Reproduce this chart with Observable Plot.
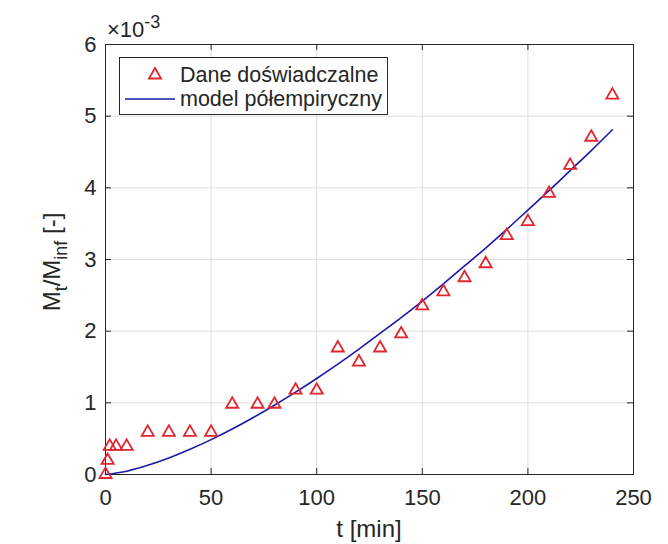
<!DOCTYPE html>
<html>
<head>
<meta charset="utf-8">
<script src="https://cdn.jsdelivr.net/npm/d3@7"></script>
<script src="https://cdn.jsdelivr.net/npm/@observablehq/plot@0.6"></script>
<style>
  html, body { margin: 0; padding: 0; background: #ffffff; }
</style>
</head>
<body>
<div id="chart"></div>
<script>
// Experimental data (t in min, Mt/Minf in units of 1e-3)
const tData = [0, 1, 2, 5, 10, 20, 30, 40, 50, 60, 72, 80, 90, 100, 110, 120, 130, 140, 150, 160, 170, 180, 190, 200, 210, 220, 230, 240];
const mData = [0, 0.196, 0.392, 0.392, 0.392, 0.588, 0.588, 0.588, 0.588, 0.980, 0.980, 0.980, 1.176, 1.176, 1.765, 1.569, 1.765, 1.961, 2.353, 2.549, 2.745, 2.941, 3.333, 3.529, 3.922, 4.314, 4.706, 5.294];

const tModel = [0, 10, 20, 30, 40, 50, 60, 70, 80, 90, 100, 110, 120, 130, 140, 150, 160, 170, 180, 190, 200, 210, 220, 230, 240];
const mModel = [0, 0.046, 0.128, 0.231, 0.352, 0.487, 0.635, 0.796, 0.967, 1.149, 1.34, 1.54, 1.75, 1.97, 2.19, 2.42, 2.66, 2.91, 3.16, 3.42, 3.69, 3.96, 4.24, 4.52, 4.81];

const xTicks = [0, 50, 100, 150, 200, 250];
const yTicks = [0, 1, 2, 3, 4, 5, 6];

const seriesData = "Dane doświadczalne";
const seriesModel = "model półempiryczny";
const xLabel = "t [min]";
const exponentLabel = "-3";

const data = tData.map((t, i) => ({t, m: mData[i]}));
const model = tModel.map((t, i) => ({t, m: mModel[i]}));

const W = 668, H = 544;
const mL = 105, mR = 35, mT = 44, mB = 70;
const frameH = H - mT - mB, frameW = W - mL - mR;
const tickLen = 6;
const red = "#e0262e", blue = "#1a1aa6", ink = "#262626", grid = "#dedede";

const chart = Plot.plot({
  width: W, height: H,
  marginLeft: mL, marginRight: mR, marginTop: mT, marginBottom: mB,
  style: {fontFamily: "'Liberation Sans', Arial, sans-serif", fontSize: "22px", color: ink, background: "#ffffff"},
  x: {domain: [0, 250]},
  y: {domain: [0, 6]},
  marks: [
    Plot.gridX(xTicks, {stroke: grid, strokeOpacity: 1}),
    Plot.gridY(yTicks, {stroke: grid, strokeOpacity: 1}),
    Plot.tickX(xTicks, {x: d => d, insetTop: frameH - tickLen, stroke: ink}),
    Plot.tickX(xTicks, {x: d => d, insetBottom: frameH - tickLen, stroke: ink}),
    Plot.tickY(yTicks, {y: d => d, insetRight: frameW - tickLen, stroke: ink}),
    Plot.tickY(yTicks, {y: d => d, insetLeft: frameW - tickLen, stroke: ink}),
    Plot.frame({stroke: ink, strokeWidth: 1}),
    Plot.axisX(xTicks, {tickSize: 0, tickPadding: 15, label: null, tickFormat: d => String(d), fontSize: 22}),
    Plot.axisY(yTicks, {tickSize: 0, tickPadding: 9, label: null, tickFormat: d => String(d), fontSize: 22}),
    Plot.line(model, {x: "t", y: "m", stroke: blue, strokeWidth: 1.6, curve: "monotone-x"}),
    Plot.dot(data, {x: "t", y: "m", symbol: "triangle", r: 4.5, stroke: red, strokeWidth: 1.8, fill: "none"})
  ]
});
document.getElementById("chart").appendChild(chart);

const svg = d3.select(chart);
const font = "'Liberation Sans', Arial, sans-serif";

// x label
svg.append("text")
  .attr("x", mL + frameW / 2).attr("y", 537)
  .attr("text-anchor", "middle")
  .attr("font-family", font).attr("font-size", 24).attr("fill", ink)
  .text(xLabel);

// y label with subscripts
const yl = svg.append("text")
  .attr("transform", "translate(60,262) rotate(-90)")
  .attr("text-anchor", "middle")
  .attr("font-family", font).attr("font-size", 24).attr("fill", ink);
yl.append("tspan").text("M");
yl.append("tspan").attr("dy", 7).attr("font-size", 18).text("t");
yl.append("tspan").attr("dy", -7).text("/M");
yl.append("tspan").attr("dy", 7).attr("font-size", 18).text("inf");
yl.append("tspan").attr("dy", -7).text(" [-]");

// exponent
const ex = svg.append("text")
  .attr("x", 107).attr("y", 37)
  .attr("text-anchor", "start")
  .attr("font-family", font).attr("font-size", 22).attr("fill", ink);
ex.append("tspan").text("×10");
ex.append("tspan").attr("dy", -9).attr("font-size", 18).text(exponentLabel);

// legend
const lg = svg.append("g").attr("font-family", font).attr("font-size", 21.5).attr("fill", ink).attr("text-anchor", "start");
lg.append("rect").attr("x", 119.5).attr("y", 57.5).attr("width", 268).attr("height", 57)
  .attr("fill", "#ffffff").attr("stroke", ink).attr("stroke-width", 1);
lg.append("path").attr("d", d3.symbol(d3.symbolTriangle, Math.PI * 4.5 * 4.5)())
  .attr("transform", "translate(155,75)")
  .attr("fill", "none").attr("stroke", red).attr("stroke-width", 1.8);
lg.append("line").attr("x1", 125).attr("x2", 175).attr("y1", 99).attr("y2", 99)
  .attr("stroke", blue).attr("stroke-width", 1.6);
lg.append("text").attr("x", 180).attr("y", 81.5).attr("text-anchor", "start").text(seriesData);
lg.append("text").attr("x", 180).attr("y", 105.5).attr("text-anchor", "start").text(seriesModel);
</script>
</body>
</html>
